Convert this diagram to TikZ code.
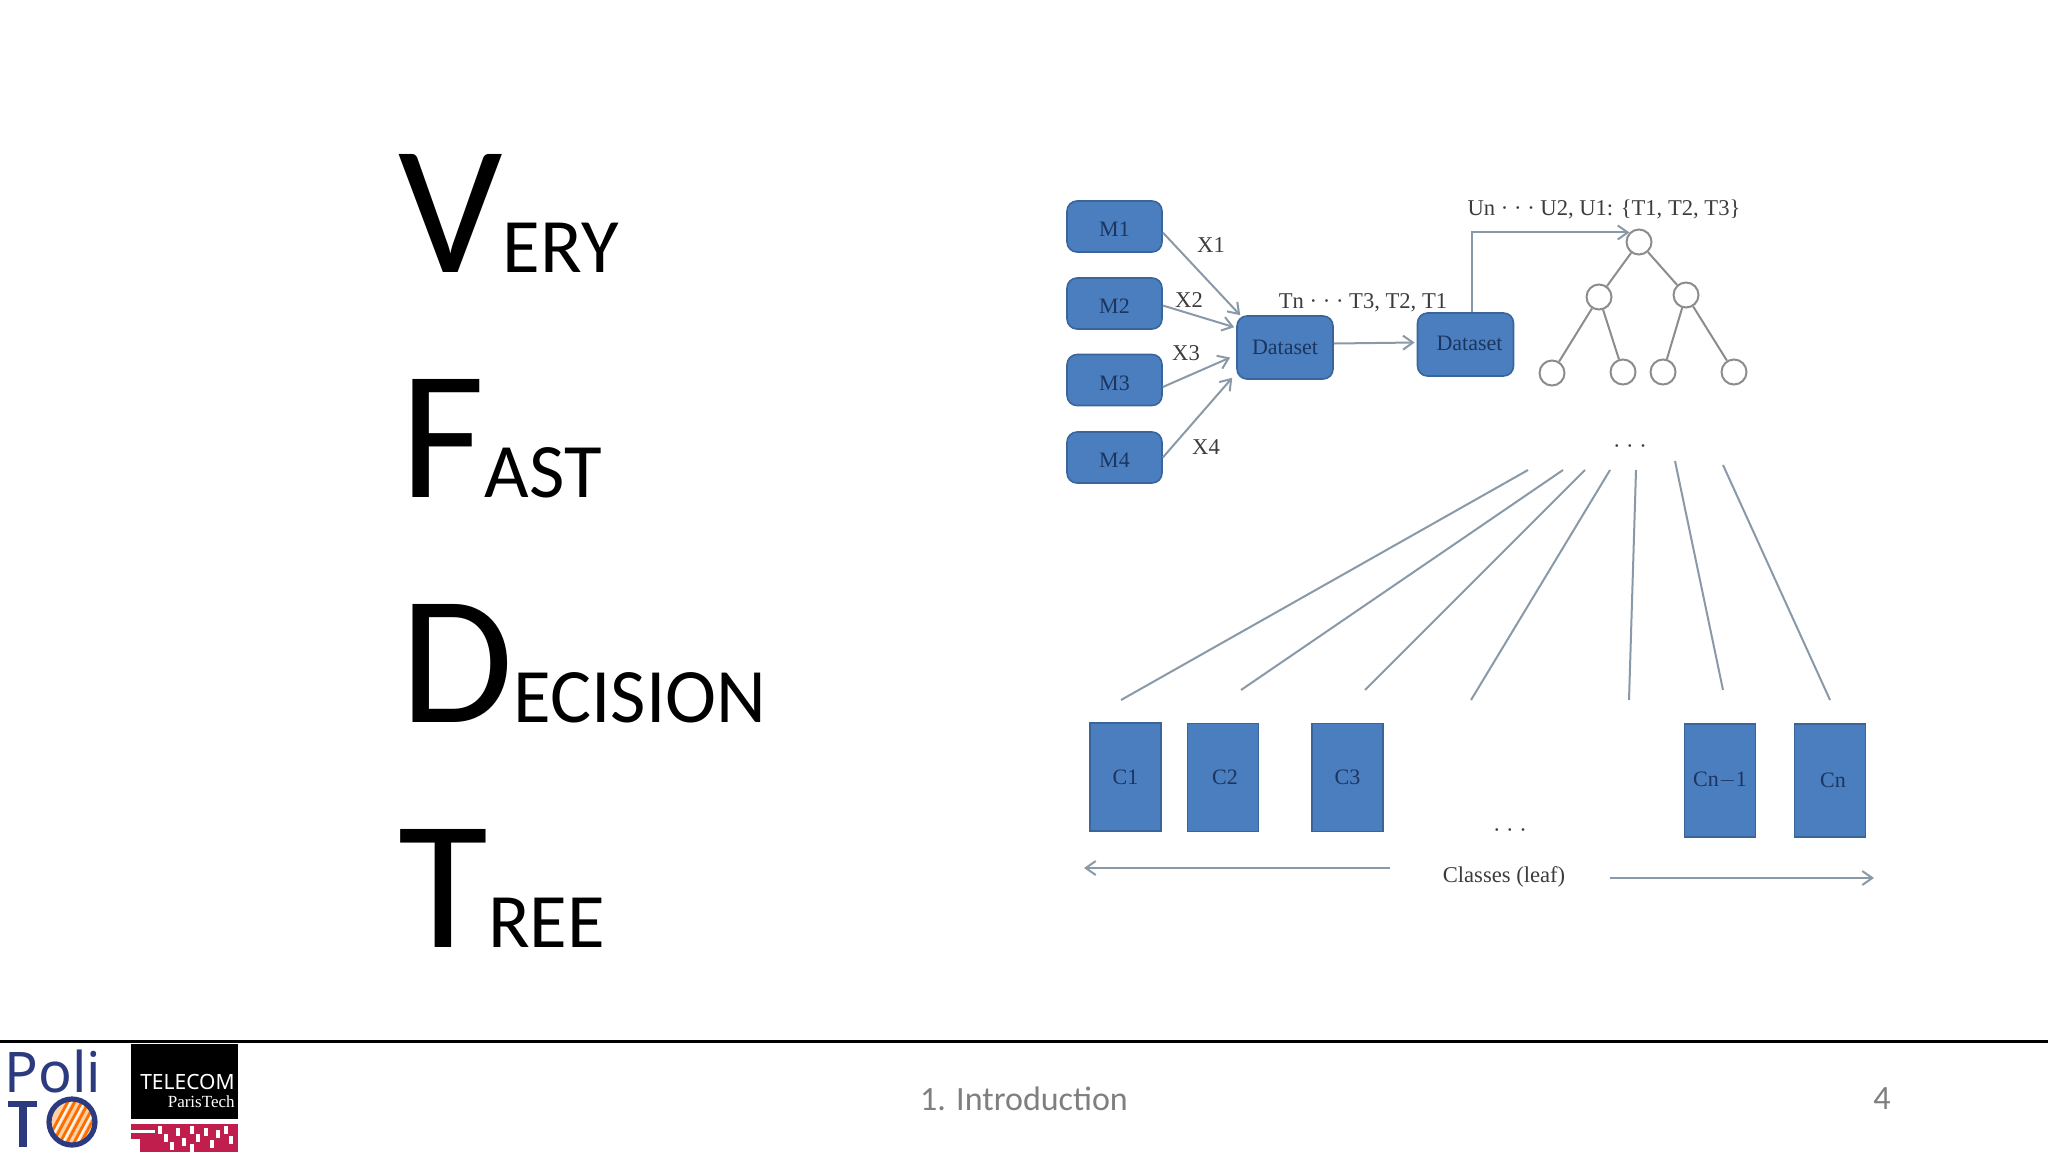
\documentclass[tikz,border=0pt]{standalone}
\usepackage{fontspec}
\setmainfont{Carlito}
\newfontfamily\serifdiag{Liberation Serif}
\newfontfamily\logosans{Noto Sans}
\usetikzlibrary{arrows.meta,calc}
\definecolor{boxfill}{HTML}{4A7EBE}
\definecolor{boxedge}{HTML}{3A659A}
\definecolor{boxtext}{HTML}{1B3560}
\definecolor{linegray}{HTML}{8A99A8}
\definecolor{lab}{HTML}{3C3C3C}
\definecolor{foot}{HTML}{7F7F7F}
\definecolor{polib}{HTML}{2C3A80}
\definecolor{telred}{HTML}{C01E4C}
\newcommand{\bigc}[2]{{\fontsize{92}{92}\selectfont #1}{\fontsize{38.5}{38.5}\selectfont #2}}
\newcommand{\lowr}[1]{\raisebox{-1.5pt}[\height][\depth]{#1}}
\tikzset{
  word/.style={anchor=base west,inner sep=0pt,text=black},
  mbox/.style={draw=boxedge,fill=boxfill,line width=0.8pt,rounded corners=5pt,minimum width=47.5pt,minimum height=25.5pt,inner sep=0pt,text=boxtext,font=\serifdiag\fontsize{11}{11}\selectfont},
  dbox/.style={mbox,minimum width=48pt,minimum height=31.5pt},
  cbox/.style={draw=boxedge,fill=boxfill,line width=0.6pt,minimum width=35.5pt,minimum height=54pt,inner sep=0pt,text=boxtext,font=\serifdiag\fontsize{11}{11}\selectfont},
  cboxb/.style={cbox,minimum height=56.5pt},
  lbl/.style={inner sep=0pt,text=lab,font=\serifdiag\fontsize{11.3}{11.3}\selectfont},
  arr/.style={draw=linegray,line width=1pt,-{Straight Barb[length=5pt,width=7pt]}},
  plain/.style={draw=linegray,line width=1pt},
  tnode/.style={circle,draw=gray!90,fill=white,line width=1pt,minimum size=12.5pt,inner sep=0pt},
  tedge/.style={draw=gray!90,line width=1pt},
  foottext/.style={inner sep=0pt,text=foot,font=\fontsize{17}{17}\selectfont},
}
\begin{document}
\begin{tikzpicture}[x=0.5pt,y=-0.5pt]
\useasboundingbox (0,0) rectangle (2048,1152);
% title words
\node[word] (w1) at (398,272) {\bigc{V}{ERY}};
\node[word] (w2) at (400,497) {\bigc{F}{AST}};
\node[word] (w3) at (400,722) {\bigc{D}{ECISION}};
\node[word] (w4) at (398,947) {\bigc{T}{REE}};
% sources
\node[mbox] (M1) at (1114.5,226.5) {\lowr{M1}};
\node[mbox] (M2) at (1114.5,303.5) {\lowr{M2}};
\node[mbox] (M3) at (1114.5,380) {\lowr{M3}};
\node[mbox] (M4) at (1114.5,457.5) {\lowr{M4}};
\node[dbox] (ds1) at (1285,347.5) {Dataset};
\node[dbox] (ds2) at (1465.5,344.5) {\hspace{4pt}\raisebox{0.5pt}[\height][\depth]{Dataset}};
\draw[arr] ([yshift=-3pt]M1.east) -- ([xshift=2pt]ds1.north west);
\draw[arr] ([yshift=-1pt]M2.east) -- ([xshift=-1pt,yshift=-6pt]ds1.north west);
\draw[arr] ([yshift=-3.5pt]M3.east) -- ([xshift=-3pt,yshift=-5pt]ds1.west);
\draw[arr] (M4.east) -- ([xshift=-2pt,yshift=1pt]ds1.south west);
\draw[arr] ([yshift=2pt]ds1.east) -- ([xshift=-1pt,yshift=1pt]ds2.west);
\node[lbl] (x1) at (1211,245) {X1};
\node[lbl] (x2) at (1189,300) {X2};
\node[lbl] (x3) at (1186,353) {X3};
\node[lbl] (x4) at (1206,447) {X4};
\node[lbl] (tl) at (1363,303) {Tn · · · T3, T2, T1};
\node[lbl] (ul) at (1604,209) {Un · · · U2, U1: \{T1, T2, T3\}};
% tree
\node[tnode] (root) at (1639,242) {};
\node[tnode] (na) at (1599,297) {};
\node[tnode] (nb) at (1686,295) {};
\node[tnode] (l1) at (1552,373) {};
\node[tnode] (l2) at (1623,372) {};
\node[tnode] (l3) at (1663,372) {};
\node[tnode] (l4) at (1734,372) {};
\draw[tedge] (root) -- (na);
\draw[tedge] (root) -- (nb);
\draw[tedge] (na) -- (l1);
\draw[tedge] (na) -- (l2);
\draw[tedge] (nb) -- (l3);
\draw[tedge] (nb) -- (l4);
\draw[arr] ([xshift=3pt]ds2.north) |- (root.135);
\node[lbl] (d1) at (1630,449) {· · ·};
% fan lines
\coordinate (a1) at (1528,470); \coordinate (b1) at (1121,700);
\coordinate (a2) at (1563,470); \coordinate (b2) at (1241,690);
\coordinate (a3) at (1585,470); \coordinate (b3) at (1365,690);
\coordinate (a4) at (1610,470); \coordinate (b4) at (1471,700);
\coordinate (a5) at (1636,470); \coordinate (b5) at (1629,700);
\coordinate (a6) at (1675,461); \coordinate (b6) at (1723,690);
\coordinate (a7) at (1723,465); \coordinate (b7) at (1830,700);
\foreach \i in {1,...,7}{\draw[plain] (a\i) -- (b\i);}
% classes
\node[cbox] (c1) at (1125.5,777) {C1};
\node[cbox] (c2) at (1223,777.5) {\hspace{2pt}C2};
\node[cbox] (c3) at (1347.5,777.5) {C3};
\node[cboxb] (c4) at (1720,780.5) {Cn$-$1};
\node[cboxb] (c5) at (1830,780.5) {\hspace{3pt}Cn};
\node[lbl] (d2) at (1510,833) {· · ·};
\node[lbl] (cl) at (1504,877) {Classes (leaf)};
\coordinate (la) at (1390,868); \coordinate (lb) at (1084,868);
\coordinate (ra) at (1610,878); \coordinate (rb) at (1874,878);
\draw[arr] (la) -- (lb);
\draw[arr] (ra) -- (rb);
% footer
\coordinate (fl) at (0,1041); \coordinate (fr) at (2048,1041);
\draw[black,line width=1.5pt] (fl) -- (fr);
\node[foottext] (intro) at (1024,1099) {1. Introduction};
\node[foottext] (pg) at (1882,1099) {4};
% PoliTO logo
\node[inner sep=0pt,anchor=base west,text=polib,font=\logosans\fontsize{28}{28}\selectfont] (poli) at (4,1092) {Poli};
\fill[polib] (8,1101) rectangle (37,1107);
\fill[polib] (19,1101) rectangle (27,1147);
\begin{scope}
\clip (72,1122) circle (22);
\fill[orange!35] (46,1096) rectangle (98,1148);
\foreach \k in {0,7,...,70}{\draw[orange!85!red,line width=1.4pt] (42+\k,1150) -- (72+\k,1094);}
\foreach \k in {3,17,...,70}{\draw[white,line width=0.8pt] (42+\k,1150) -- (72+\k,1094);}
\end{scope}
\draw[polib,line width=2.6pt] (72,1122) circle (23);
% Telecom logo
\fill[black] (131,1044) rectangle (238,1119);
\node[inner sep=0pt,anchor=base east,text=white,font=\logosans\fontsize{10.5}{10.5}\selectfont] (tel) at (235,1089) {TELECOM};
\node[inner sep=0pt,anchor=base east,text=white,font=\serifdiag\fontsize{8.5}{8.5}\selectfont] (par) at (235,1107) {ParisTech};
\fill[telred] (131,1124) rectangle (238,1152);
\fill[white] (131,1130) rectangle (155,1133);
\fill[white] (131,1139) rectangle (140,1152);
\foreach \xx/\yy in {158/1126,164/1134,170/1142,176/1128,182/1138,190/1126,196/1134,190/1144,204/1128,210/1140,216/1130,224/1126,229/1136}{\fill[white] (\xx,\yy) rectangle ++(3.5,8);}
\end{tikzpicture}
\end{document}
